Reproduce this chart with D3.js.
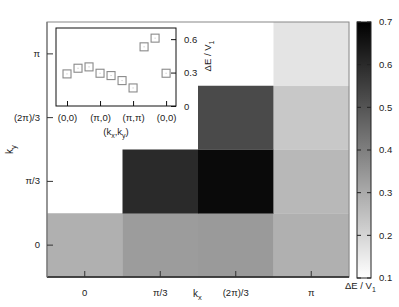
<!DOCTYPE html>
<html>
<head>
<meta charset="utf-8">
<script src="https://cdn.jsdelivr.net/npm/d3@7"></script>
<style>
  html, body { margin: 0; padding: 0; background: #fff; }
  svg text { font-family: "Liberation Sans", Arial, sans-serif; fill: #222; }
</style>
</head>
<body>
<svg id="chart" width="399" height="307"></svg>
<script>
// ---- data ----
const kxLabels = ["0", "π/3", "(2π)/3", "π"];
const kyLabels = ["0", "π/3", "(2π)/3", "π"];
// cells of the irreducible wedge (kx index, ky index, ΔE/V1)
const cellKx = [0, 1, 2, 3, 1, 2, 3, 2, 3, 3];
const cellKy = [0, 0, 0, 0, 1, 1, 1, 2, 2, 3];
const cellValues = [0.287, 0.334, 0.338, 0.287, 0.601, 0.676, 0.268, 0.526, 0.229, 0.163];
const colorTicks = [0.1, 0.2, 0.3, 0.4, 0.5, 0.6, 0.7];
// inset: path (0,0)->(π,0)->(π,π)->(0,0)
const insetIndex = [0, 1, 2, 3, 4, 5, 6, 7, 8, 9];
const insetValues = [0.288, 0.339, 0.351, 0.294, 0.273, 0.228, 0.162, 0.531, 0.609, 0.294];
const insetTickIndex = [0, 3, 6, 9];
const insetTickLabels = ["(0,0)", "(π,0)", "(π,π)", "(0,0)"];
const insetYTicks = [0, 0.3, 0.6];

const svg = d3.select("#chart");

// ---- main heatmap ----
const L = 47, R = 349, T = 22, B = 277;
const x = d3.scaleBand().domain(d3.range(4)).range([L, R]).padding(0);
const y = d3.scaleBand().domain(d3.range(4)).range([B, T]).padding(0);
const color = d3.scaleLinear().domain([0.1, 0.7]).range(["#ffffff", "#000000"]).clamp(true);

const cells = cellValues.map((v, i) => ({kx: cellKx[i], ky: cellKy[i], v}));
svg.append("g").selectAll("rect").data(cells).join("rect")
  .attr("x", d => x(d.kx)).attr("y", d => y(d.ky))
  .attr("width", x.bandwidth() + 0.3).attr("height", y.bandwidth() + 0.3)
  .attr("fill", d => color(d.v));

// frame
svg.append("rect").attr("x", L).attr("y", T).attr("width", R - L).attr("height", B - T)
  .attr("fill", "none").attr("stroke", "#888").attr("stroke-width", 1);
svg.append("line").attr("x1", L).attr("x2", R).attr("y1", B).attr("y2", B)
  .attr("stroke", "#222").attr("stroke-width", 1.5);
svg.append("line").attr("x1", L).attr("x2", L).attr("y1", T).attr("y2", B)
  .attr("stroke", "#777").attr("stroke-width", 1.2);

// axes (ticks inward)
const xAxis = d3.axisBottom(x).tickFormat(i => kxLabels[i]).tickSize(-6).tickPadding(10);
const gx = svg.append("g").attr("transform", `translate(0,${B})`).call(xAxis);
gx.select(".domain").remove();
gx.selectAll(".tick line").attr("stroke", "#333");
gx.selectAll(".tick text").attr("font-size", 9.5).attr("fill", "#222").attr("dy", "0.95em");

const yAxis = d3.axisLeft(y).tickFormat(i => kyLabels[i]).tickSize(-6).tickPadding(7);
const gy = svg.append("g").attr("transform", `translate(${L},0)`).call(yAxis);
gy.select(".domain").remove();
gy.selectAll(".tick line").attr("stroke", "#333");
gy.selectAll(".tick text").attr("font-size", 9.5).attr("fill", "#222");

// axis titles
const kxT = svg.append("text").attr("x", 193).attr("y", 297).attr("font-size", 10);
kxT.append("tspan").text("k");
kxT.append("tspan").attr("font-size", 7.5).attr("dy", 3).text("x");
const kyT = svg.append("text").attr("transform", "translate(13,154) rotate(-90)").attr("font-size", 10);
kyT.append("tspan").text("k");
kyT.append("tspan").attr("font-size", 7.5).attr("dy", 3).text("y");

// ---- colorbar ----
const cbL = 357, cbW = 14;
const cy = d3.scaleLinear().domain([0.1, 0.7]).range([B + 1, T]);
const defs = svg.append("defs");
const grad = defs.append("linearGradient").attr("id", "cbgrad")
  .attr("x1", 0).attr("y1", 1).attr("x2", 0).attr("y2", 0);
d3.range(0, 1.0001, 0.1).forEach(t => {
  const v = 0.1 + t * 0.6;
  grad.append("stop").attr("offset", t).attr("stop-color", color(v));
});
svg.append("rect").attr("x", cbL).attr("y", cy(0.7)).attr("width", cbW)
  .attr("height", cy(0.1) - cy(0.7)).attr("fill", "url(#cbgrad)")
  .attr("stroke", "#222").attr("stroke-width", 1);
const cbt = svg.append("g");
cbt.selectAll("line.l").data(colorTicks).join("line").attr("class", "l")
  .attr("x1", cbL).attr("x2", cbL + 4).attr("y1", d => cy(d)).attr("y2", d => cy(d))
  .attr("stroke", "#222");
cbt.selectAll("line.r").data(colorTicks).join("line").attr("class", "r")
  .attr("x1", cbL + cbW - 4).attr("x2", cbL + cbW).attr("y1", d => cy(d)).attr("y2", d => cy(d))
  .attr("stroke", "#222");
cbt.selectAll("text").data(colorTicks).join("text")
  .attr("x", cbL + cbW + 8).attr("y", d => cy(d)).attr("dy", "0.35em")
  .attr("font-size", 9.5).text(d => d3.format(".1f")(d));
const cbT = svg.append("text").attr("x", 345).attr("y", 289).attr("font-size", 9.5);
cbT.append("tspan").text("ΔE / V");
cbT.append("tspan").attr("font-size", 7).attr("dy", 3).text("1");

// ---- inset ----
const iL = 56, iR = 176, iT = 28, iB = 106;
svg.append("rect").attr("x", iL).attr("y", iT).attr("width", iR - iL).attr("height", iB - iT)
  .attr("fill", "#fff").attr("stroke", "#111").attr("stroke-width", 1);
const ix = d3.scaleLinear().domain([-1, 9.9]).range([iL, iR]);
const iy = d3.scaleLinear().domain([0, 0.7]).range([iB, iT]);

const ixAxis = d3.axisBottom(ix).tickValues(insetTickIndex)
  .tickFormat((d, i) => insetTickLabels[i]).tickSize(-5).tickPadding(8);
const gix = svg.append("g").attr("transform", `translate(0,${iB})`).call(ixAxis);
gix.select(".domain").remove();
gix.selectAll(".tick line").attr("stroke", "#111");
gix.selectAll(".tick text").attr("font-size", 9.5).attr("fill", "#222");

const iyAxis = d3.axisRight(iy).tickValues(insetYTicks)
  .tickFormat(d => d === 0 ? "0" : d3.format(".1f")(d)).tickSize(-5).tickPadding(8);
const giy = svg.append("g").attr("transform", `translate(${iR},0)`).call(iyAxis);
giy.select(".domain").remove();
giy.selectAll(".tick line").attr("stroke", "#111");
giy.selectAll(".tick text").attr("font-size", 9.5).attr("fill", "#222");

const ixT = svg.append("text").attr("x", 116).attr("y", 135).attr("text-anchor", "middle").attr("font-size", 9.5);
ixT.append("tspan").text("(k");
ixT.append("tspan").attr("font-size", 7).attr("dy", 3).text("x");
ixT.append("tspan").attr("dy", -3).text(",k");
ixT.append("tspan").attr("font-size", 7).attr("dy", 3).text("y");
ixT.append("tspan").attr("dy", -3).text(")");

const iyT = svg.append("text").attr("transform", "translate(211,56) rotate(-90)")
  .attr("text-anchor", "middle").attr("font-size", 9.5);
iyT.append("tspan").text("ΔE / V");
iyT.append("tspan").attr("font-size", 7).attr("dy", 3).text("1");

const pts = insetValues.map((v, i) => ({i: insetIndex[i], v}));
const s = 8;
svg.append("g").selectAll("rect").data(pts).join("rect")
  .attr("x", d => ix(d.i) - s / 2).attr("y", d => iy(d.v) - s / 2)
  .attr("width", s).attr("height", s)
  .attr("fill", "#fff").attr("stroke", "#8a8a8a").attr("stroke-width", 1.1);
svg.append("g").selectAll("rect").data(pts).join("rect")
  .attr("x", d => ix(d.i) - 0.5).attr("y", d => iy(d.v) - 0.5)
  .attr("width", 1).attr("height", 1).attr("fill", "#bbb");
</script>
</body>
</html>
